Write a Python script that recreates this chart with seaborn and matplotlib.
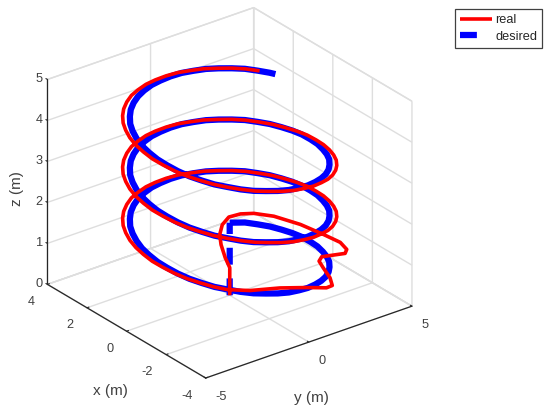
import matplotlib
matplotlib.use("Agg")
import matplotlib.pyplot as plt
from matplotlib.transforms import Affine2D
import seaborn as sns

# desired trajectory: straight take-off leg, then the helix (one turn read every 7.5 degrees)
takeoff_x = [0.0, 2.47]
takeoff_y = [0.0, 2.37]
takeoff_z = [0.0, 0.65]

turn_x = [2.47, 2.13, 1.75, 1.34, 0.91, 0.46, 0.0, -0.46, -0.91, -1.34, -1.75, -2.13,
          -2.47, -2.78, -3.03, -3.23, -3.38, -3.47, -3.5, -3.47, -3.38, -3.23, -3.03, -2.78,
          -2.47, -2.13, -1.75, -1.34, -0.91, -0.46, 0.0, 0.46, 0.91, 1.34, 1.75, 2.13,
          2.47, 2.78, 3.03, 3.23, 3.38, 3.47, 3.5, 3.47, 3.38, 3.23, 3.03, 2.78]
turn_y = [2.47, 2.78, 3.03, 3.23, 3.38, 3.47, 3.5, 3.47, 3.38, 3.23, 3.03, 2.78,
          2.47, 2.13, 1.75, 1.34, 0.91, 0.46, 0.0, -0.46, -0.91, -1.34, -1.75, -2.13,
          -2.47, -2.78, -3.03, -3.23, -3.38, -3.47, -3.5, -3.47, -3.38, -3.23, -3.03, -2.78,
          -2.47, -2.13, -1.75, -1.34, -0.91, -0.46, 0.0, 0.46, 0.91, 1.34, 1.75, 2.13]
end_x = [2.47, 2.13, 1.75, 1.34, 1.14]
end_y = [2.47, 2.78, 3.03, 3.23, 3.31]
start_x = [2.47]
start_y = [2.37]
desired_x = start_x + turn_x[1:] + turn_x + turn_x + end_x
desired_y = start_y + turn_y[1:] + turn_y + turn_y + end_y
desired_z = [0.65, 0.68, 0.70, 0.73, 0.75, 0.78, 0.81, 0.83, 0.86, 0.88, 0.91, 0.94,
             0.96, 0.99, 1.01, 1.04, 1.07, 1.09, 1.12, 1.14, 1.17, 1.20, 1.22, 1.25,
             1.28, 1.30, 1.33, 1.35, 1.38, 1.41, 1.43, 1.46, 1.48, 1.51, 1.54, 1.56,
             1.59, 1.61, 1.64, 1.67, 1.69, 1.72, 1.74, 1.77, 1.80, 1.82, 1.85, 1.87,
             1.90, 1.93, 1.95, 1.98, 2.00, 2.03, 2.06, 2.08, 2.11, 2.13, 2.16, 2.19,
             2.21, 2.24, 2.26, 2.29, 2.32, 2.34, 2.37, 2.39, 2.42, 2.45, 2.47, 2.50,
             2.53, 2.55, 2.58, 2.60, 2.63, 2.66, 2.68, 2.71, 2.73, 2.76, 2.79, 2.81,
             2.84, 2.86, 2.89, 2.92, 2.94, 2.97, 2.99, 3.02, 3.05, 3.07, 3.10, 3.12,
             3.15, 3.18, 3.20, 3.23, 3.25, 3.28, 3.31, 3.33, 3.36, 3.38, 3.41, 3.44,
             3.46, 3.49, 3.51, 3.54, 3.57, 3.59, 3.62, 3.64, 3.67, 3.70, 3.72, 3.75,
             3.78, 3.80, 3.83, 3.85, 3.88, 3.91, 3.93, 3.96, 3.98, 4.01, 4.04, 4.06,
             4.09, 4.11, 4.14, 4.17, 4.19, 4.22, 4.24, 4.27, 4.30, 4.32, 4.35, 4.37,
             4.40, 4.43, 4.45, 4.48, 4.49]

# real trajectory: transient after take-off, then a slightly wider helix
transient_x = [0.0, 0.50, 0.82, 1.33, 2.00, 2.34, 2.72, 2.90, 2.74, 2.41, 1.77, 0.72, -0.35, -1.21,
               -1.82, -2.07, -1.98, -1.90, -2.13, -2.61, -3.32, -3.82, -3.88, -3.58, -3.19, -2.88]
transient_y = [0.0, 0.48, 0.79, 1.06, 1.50, 1.76, 2.25, 2.74, 3.15, 3.48, 3.84, 4.12, 4.20, 4.20,
               3.93, 3.61, 3.11, 2.64, 2.29, 2.03, 1.68, 1.31, 0.97, 0.29, -0.63, -1.78]
transient_z = [0.0, 0.15, 0.30, 0.35, 0.40, 0.50, 0.55, 0.60, 0.65, 0.70, 0.75, 0.80, 0.85, 0.90,
               0.95, 0.98, 1.00, 1.02, 1.04, 1.06, 1.08, 1.10, 1.12, 1.16, 1.20, 1.25]
real_half_x = [-2.48, -2.11, -1.70, -1.27, -0.82, -0.35, 0.13, 0.60, 1.06, 1.50, 1.92, 2.31,
               2.65, 2.95, 3.20, 3.40, 3.53, 3.61, 3.63, 3.58, 3.47, 3.30, 3.08, 2.80]
real_half_y = [-2.48, -2.80, -3.08, -3.30, -3.47, -3.58, -3.63, -3.61, -3.53, -3.40, -3.20, -2.95,
               -2.65, -2.31, -1.92, -1.50, -1.06, -0.60, -0.13, 0.35, 0.82, 1.27, 1.70, 2.11]
real_turn_x = [2.48, 2.11, 1.70, 1.27, 0.82, 0.35, -0.13, -0.60, -1.06, -1.50, -1.92, -2.31,
               -2.65, -2.95, -3.20, -3.40, -3.53, -3.61, -3.63, -3.58, -3.47, -3.30, -3.08, -2.80]
real_turn_y = [2.48, 2.80, 3.08, 3.30, 3.47, 3.58, 3.63, 3.61, 3.53, 3.40, 3.20, 2.95,
               2.65, 2.31, 1.92, 1.50, 1.06, 0.60, 0.13, -0.35, -0.82, -1.27, -1.70, -2.11]
real_end_x = [2.48, 2.11, 1.70]
real_end_y = [2.48, 2.80, 3.08]
real_x = transient_x + real_half_x + real_turn_x + real_half_x + real_turn_x + real_half_x + real_end_x
real_y = transient_y + real_half_y + real_turn_y + real_half_y + real_turn_y + real_half_y + real_end_y
real_z = transient_z + desired_z[24:24 + 24 + 96 + 3]

x_ticks = [-4, -2, 0, 2, 4]
y_ticks = [-5, 0, 5]
z_ticks = [0, 1, 2, 3, 4, 5]

sns.set_theme(style="white")
plt.rcParams['font.family'] = ['Liberation Sans', 'DejaVu Sans']
plt.rcParams['axes.unicode_minus'] = False
text_color = '#404040'
grid_color = '#dedede'

W, H = 550, 413
fig = plt.figure(figsize=(W / 100, H / 100), dpi=100)
side = 421
ax = fig.add_axes([13.5 / W, 4 / H, side / W, side / H], projection='3d', computed_zorder=False)
ax.set_proj_type('ortho')
ax.view_init(elev=27, azim=142.5)
ax.set_box_aspect((260, 260, 230), zoom=1.0)

dash = (0, (2.7, 2.2))
ax.plot(takeoff_x, takeoff_y, takeoff_z, color='#0000ff', lw=4.5, linestyle=dash,
        dash_capstyle='butt', zorder=2)
ax.plot(desired_x, desired_y, desired_z, color='#0000ff', lw=4.5, zorder=2,
        solid_capstyle='butt', solid_joinstyle='round')
ax.plot(real_x, real_y, real_z, color='#ff0000', lw=2.6, zorder=3,
        solid_capstyle='butt', solid_joinstyle='round')

ax.set_xlim(-4, 4)
ax.set_ylim(5, -5)
ax.set_zlim(0, 5)
ax.set_xticks(x_ticks)
ax.set_yticks(y_ticks)
ax.set_zticks(z_ticks)

for axis in (ax.xaxis, ax.yaxis, ax.zaxis):
    axis.set_pane_color((1, 1, 1, 1))
    axis.pane.set_edgecolor(grid_color)
    axis.pane.set_linewidth(1.0)
    axis.line.set_color('#262626')
    axis.line.set_linewidth(0.9)
    axis._axinfo['grid'].update(color=grid_color, linewidth=1.0)
    axis._axinfo['tick'].update(inward_factor=0.0, outward_factor=0.12, linewidth={True: 0.8, False: 0.8})
    axis.set_rotate_label(False)
ax.grid(True)
ax.tick_params(axis='both', labelsize=9.2, colors='#262626', labelcolor=text_color, pad=2)
ax.tick_params(axis='z', pad=-4.5)

# z axis on the left-hand vertical edge
ax.zaxis._axinfo['juggled'] = (1, 2, 0)

plt.setp(ax.get_xticklabels(), ha='right', va='center')
plt.setp(ax.get_yticklabels(), ha='left', va='center')
plt.setp(ax.get_zticklabels(), va='center')

ax.xaxis._axinfo['label'].update(ha='left', va='top')
ax.yaxis._axinfo['label'].update(ha='right', va='top')
ax.set_xlabel('x (m)', fontsize=11, color=text_color, labelpad=5)
ax.set_ylabel('y (m)', fontsize=11, color=text_color, labelpad=-1)
ax.set_zlabel('z (m)', fontsize=11, color=text_color, labelpad=-14, rotation=90)

# mplot3d resets the label transform on draw, so nudge the labels through get_transform
def nudge(label, dx, dy):
    offset = Affine2D().translate(dx, dy)
    label.get_transform = lambda: ax.transData + offset

nudge(ax.xaxis.label, 0, -7)
nudge(ax.yaxis.label, 0, -11)
nudge(ax.zaxis.label, -14, -8)

handles = [plt.Line2D([], [], color='#ff0000', lw=2.6, solid_capstyle='butt'),
           plt.Line2D([], [], color='#0000ff', lw=4.5, linestyle=(0, (2.7, 2.7)), dash_capstyle='butt')]
leg = fig.legend(handles, ['real', 'desired'], loc='upper left',
                 bbox_to_anchor=(455 / W, 1 - 9 / H), borderaxespad=0, fontsize=9.2,
                 handlelength=2.5, handletextpad=0.25, borderpad=0.4, labelspacing=0.35,
                 fancybox=False, framealpha=1, edgecolor='#404040', labelcolor='#262626')
leg.get_frame().set_linewidth(0.9)

fig.savefig('out.png', dpi=100)
